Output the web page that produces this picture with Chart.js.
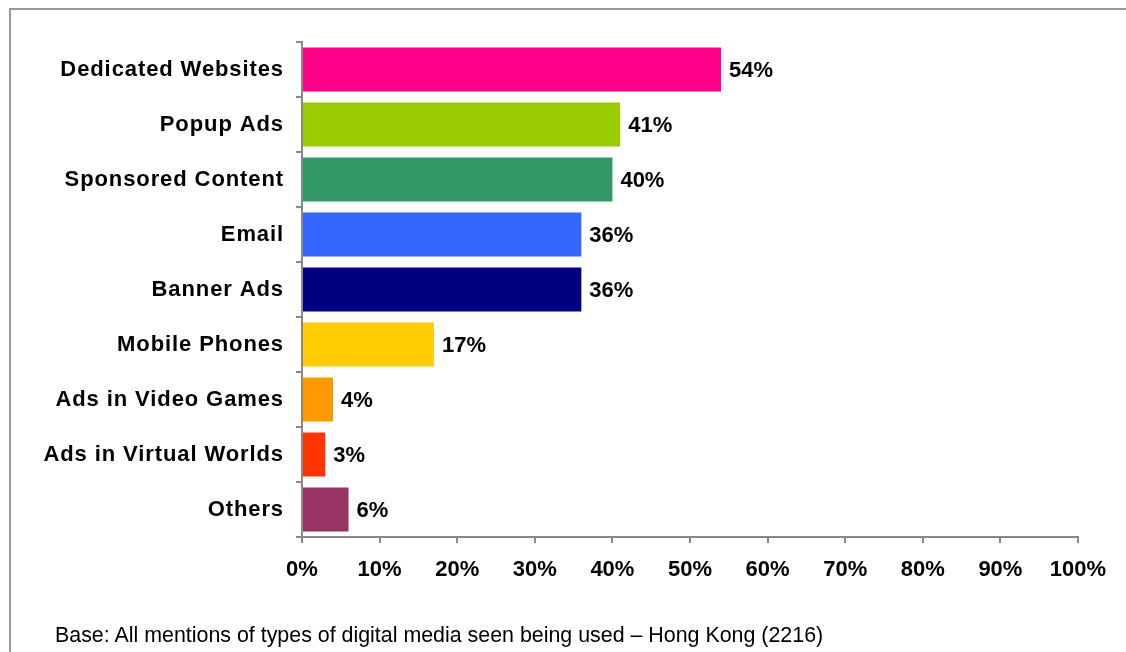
<!DOCTYPE html>
<html>
<head>
<meta charset="utf-8">
<script src="https://cdn.jsdelivr.net/npm/chart.js@4"></script>
<style>
  html, body { margin: 0; padding: 0; background: #fff; }
  #wrap { position: relative; width: 1126px; height: 652px; overflow: hidden; }
  #frame {
    position: absolute; left: 9px; top: 8px; right: -10px; bottom: -10px;
    border-top: 2px solid #999; border-left: 2px solid #999;
  }
  #note {
    position: absolute; left: 55px; top: 623px;
    font: 21.4px "Liberation Sans", Arial, sans-serif; color: #000;
  }
  canvas { position: absolute; left: 0; top: 0; }
</style>
</head>
<body>
<div id="wrap">
  <div id="frame"></div>
  <canvas id="c" width="1126" height="652"></canvas>
  <div id="note">Base: All mentions of types of digital media seen being used – Hong Kong (2216)</div>
</div>
<script>
const categories = [
  'Dedicated Websites', 'Popup Ads', 'Sponsored Content', 'Email', 'Banner Ads',
  'Mobile Phones', 'Ads in Video Games', 'Ads in Virtual Worlds', 'Others'
]
const shares = [54, 41, 40, 36, 36, 17, 4, 3, 6]
const barColors = [
  '#ff0088', '#99cc00', '#339966', '#3366ff', '#000080',
  '#ffcc00', '#ff9900', '#ff3300', '#993366'
]
const xTicks = [0, 10, 20, 30, 40, 50, 60, 70, 80, 90, 100]

const font = '"Liberation Sans", Arial, sans-serif'

// category labels in the original are a little spaced out
const spacedLabels = {
  id: 'spacedLabels',
  beforeDraw(chart) {
    const y = chart.scales.y
    if (y._spaced) return
    const orig = y.drawLabels.bind(y)
    y.drawLabels = function (area) {
      chart.ctx.save()
      chart.ctx.letterSpacing = '0.9px'
      orig(area)
      chart.ctx.restore()
    }
    y._spaced = true
  },
}

const valueLabels = {
  id: 'valueLabels',
  afterDatasetsDraw(chart) {
    const ctx = chart.ctx
    const meta = chart.getDatasetMeta(0)
    ctx.save()
    ctx.font = 'bold 22px ' + font
    ctx.fillStyle = '#000'
    ctx.textBaseline = 'middle'
    ctx.textAlign = 'left'
    meta.data.forEach((bar, i) => {
      ctx.fillText(shares[i] + '%', bar.x + 8, bar.y + 1)
    })
    ctx.restore()
  },
}

new Chart(document.getElementById('c'), {
  type: 'bar',
  data: {
    labels: categories,
    datasets: [{
      data: shares,
      backgroundColor: barColors,
      barPercentage: 0.8,
      categoryPercentage: 1,
    }],
  },
  options: {
    indexAxis: 'y',
    responsive: false,
    animation: false,
    layout: { padding: { left: 0, right: 48, top: 42, bottom: 0 } },
    plugins: { legend: { display: false }, tooltip: { enabled: false } },
    scales: {
      x: {
        min: 0,
        max: 100,
        afterBuildTicks: s => { s.ticks = xTicks.map(v => ({ value: v })) },
        afterFit: s => { s.height = 115 },
        grid: { drawOnChartArea: false, drawTicks: true, tickLength: 6, color: '#888', lineWidth: 2 },
        border: { color: '#888', width: 2 },
        ticks: {
          color: '#000',
          padding: 14,
          font: { family: font, size: 22, weight: 'bold' },
          callback: v => v + '%',
          maxRotation: 0,
        },
      },
      y: {
        afterFit: s => { s.width = 302 },
        grid: { drawOnChartArea: false, drawTicks: true, tickLength: 6, color: '#888', lineWidth: 2, offset: true },
        border: { color: '#888', width: 2 },
        ticks: {
          color: '#000',
          padding: 12,
          font: { family: font, size: 22, weight: 'bold' },
        },
      },
    },
  },
  plugins: [spacedLabels, valueLabels],
})
</script>
</body>
</html>
